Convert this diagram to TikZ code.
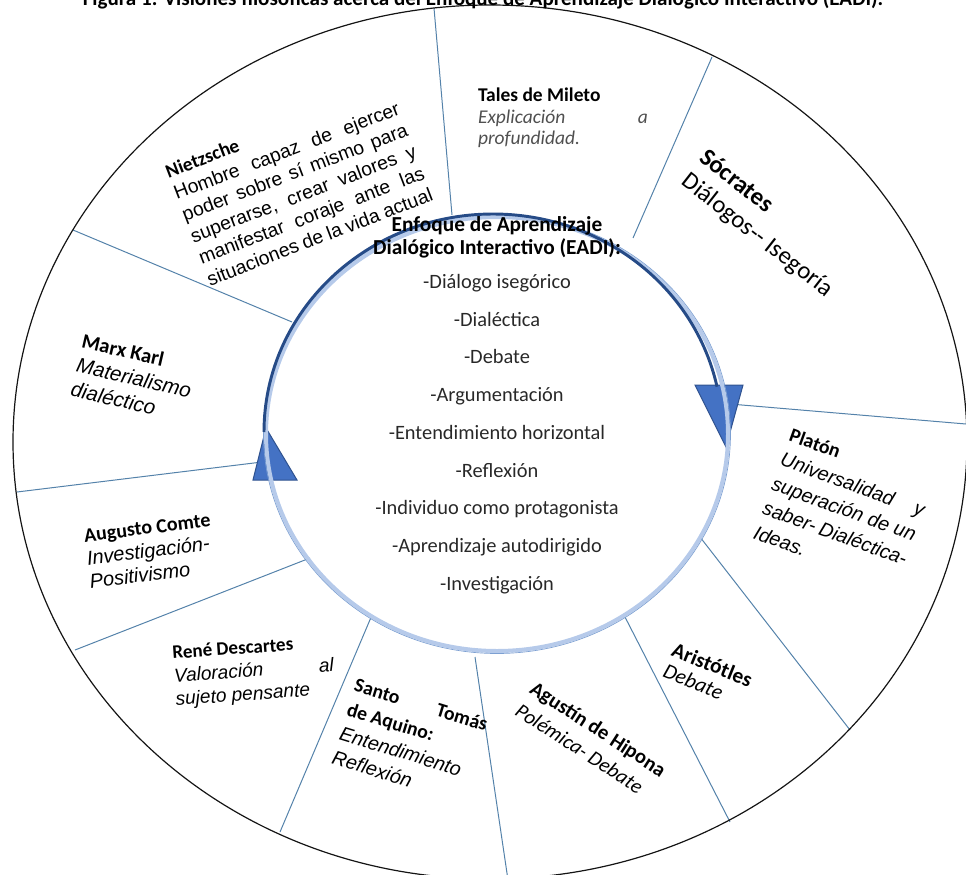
\documentclass[tikz,border=0pt]{standalone}
\usepackage{fontspec}
\setmainfont{Carlito}
\newfontfamily\arialf{Liberation Sans}
\newcommand{\fillline}[1]{\makebox[\hsize][s]{\spaceskip=0pt\xspaceskip=0pt #1}}
\newcommand{\hdr}[1]{{\rmfamily\upshape\bfseries #1}}

\tikzset{every picture/.style={line width=0.75pt}}

\begin{document}
\begin{tikzpicture}[x=0.75pt,y=0.75pt,yscale=-1,xscale=1]
\useasboundingbox (0,0) rectangle (966,874);

%Straight Lines [dividers]
\draw [color={rgb, 255:red, 84; green, 130; blue, 170 }  ,draw opacity=1 ]   (452,215) -- (434,8) ;
\draw [color={rgb, 255:red, 84; green, 130; blue, 170 }  ,draw opacity=1 ]   (633,238) -- (712,57) ;
\draw [color={rgb, 255:red, 84; green, 130; blue, 170 }  ,draw opacity=1 ]   (730,404) -- (966,424) ;
\draw [color={rgb, 255:red, 84; green, 130; blue, 170 }  ,draw opacity=1 ]   (700,537) -- (850,730) ;
\draw [color={rgb, 255:red, 84; green, 130; blue, 170 }  ,draw opacity=1 ]   (625,617) -- (730,822) ;
\draw [color={rgb, 255:red, 84; green, 130; blue, 170 }  ,draw opacity=1 ]   (475,657) -- (508,880) ;
\draw [color={rgb, 255:red, 84; green, 130; blue, 170 }  ,draw opacity=1 ]   (372,615) -- (280,832) ;
\draw [color={rgb, 255:red, 84; green, 130; blue, 170 }  ,draw opacity=1 ]   (310,558) -- (75,650) ;
\draw [color={rgb, 255:red, 84; green, 130; blue, 170 }  ,draw opacity=1 ]   (262,462) -- (17,492) ;
\draw [color={rgb, 255:red, 84; green, 130; blue, 170 }  ,draw opacity=1 ]   (292,322) -- (73,230) ;

%Shape: Ellipse [outer]
\draw  [color={rgb, 255:red, 20; green, 20; blue, 20 }  ,draw opacity=1 ][line width=0.9]  (490,442) ellipse [x radius=477, y radius=437] ;

%Shape: Triangle [right]
\draw  [color={rgb, 255:red, 47; green, 82; blue, 143 }  ,draw opacity=1 ][fill={rgb, 255:red, 68; green, 114; blue, 196 }  ,fill opacity=1 ] (695,385) -- (743,385) -- (726,447) -- cycle ;
%Shape: Triangle [left]
\draw  [color={rgb, 255:red, 47; green, 82; blue, 143 }  ,draw opacity=1 ][fill={rgb, 255:red, 68; green, 114; blue, 196 }  ,fill opacity=1 ] (266,428) -- (297,480) -- (253,480) -- cycle ;

%Shape: Ellipse [ring]
\draw  [color={rgb, 255:red, 182; green, 202; blue, 234 }  ,draw opacity=1 ][line width=3]  (497,434) ellipse [x radius=231, y radius=217] ;
\draw  [color={rgb, 255:red, 125; green, 160; blue, 210 }  ,draw opacity=1 ][line width=0.5]  (497,434) ellipse [x radius=233.5, y radius=219.5] ;
%Shape: Arc [dark]
\draw  [color={rgb, 255:red, 38; green, 75; blue, 135 }  ,draw opacity=1 ][line width=2.2]  (264,432) arc [start angle=180, end angle=348, x radius=229, y radius=218] ;

% Text Node
\draw (483,6) node [anchor=base][inner sep=0pt]  [font=\bfseries\fontsize{15.8}{17}\selectfont]  (titulo) {Figura 1. Visiones filosóficas acerca del Enfoque de Aprendizaje Dialógico Interactivo (EADI).};
% Text Node
\draw (497,237) node [inner sep=0pt][align=center]  [font=\bfseries\fontsize{16}{17.25}\selectfont]  (eadi) {Enfoque de Aprendizaje\\ Dialógico Interactivo (EADI):};
% Text Node
\draw (497,434) node [inner sep=0pt][align=center]  [font=\fontsize{15.3}{28.3}\selectfont ,color={rgb, 255:red, 40; green, 40; blue, 40 }]  (rasgos) {-Diálogo isegórico\\ -Dialéctica\\ -Debate\\ -Argumentación\\ -Entendimiento horizontal\\ -Reflexión\\ -Individuo como protagonista\\ -Aprendizaje autodirigido\\ -Investigación};
% Text Node
\draw (563,118) node [inner sep=0pt][text width=127.5pt ,align=justify]  [font=\fontsize{14.6}{16.1}\selectfont]  (tales) {\textbf{Tales de Mileto}\\ {\color[RGB]{80,80,80}\itshape\fillline{Explicación a}\\ profundidad.}};
% Text Node
\draw (299,183) node [rotate=21][inner sep=0pt][text width=180pt ,align=justify]  [font=\arialf\fontsize{14.5}{17.3}\selectfont]  (nietzsche) {\hdr{Nietzsche}\\ \fillline{Hombre capaz de ejercer}\\ \fillline{poder sobre sí mismo para}\\ \fillline{superarse, crear valores y}\\ \fillline{manifestar coraje ante las}\\ \fillline{situaciones de la vida actual}};
% Text Node
\draw (766,224) node [rotate=-38][inner sep=0pt][align=left]  [font=\fontsize{18.5}{22}\selectfont]  (socrates) {\textbf{Sócrates}\\ Diálogos-{}- Isegoría};
% Text Node
\draw (844,509) node [rotate=-20][inner sep=0pt][text width=114pt ,align=justify]  [font=\arialf\itshape\fontsize{14.8}{19.5}\selectfont]  (platon) {\hdr{Platón}\\ \fillline{Universalidad y}\\ \fillline{superación de un}\\ \fillline{saber- Dialéctica-}\\ Ideas.};
% Text Node
\draw (708,675) node [rotate=-22][inner sep=0pt][align=left]  [font=\fontsize{16}{17}\selectfont]  (aristoteles) {\textbf{Aristótles}\\ \textit{Debate}};
% Text Node
\draw (591,740) node [rotate=-33][inner sep=0pt][align=left]  [font=\fontsize{15.5}{20}\selectfont]  (agustin) {\textbf{Agustín de Hipona}\\ \textit{Polémica- Debate}};
% Text Node
\draw (410,741) node [rotate=-17][inner sep=0pt][text width=103.5pt ,align=justify]  [font=\arialf\itshape\fontsize{14.8}{19}\selectfont]  (tomas) {\hdr{\fillline{Santo Tomás}\\ de Aquino:}\\ Entendimiento\\ Reflexión};
% Text Node
\draw (254,672) node [rotate=4][inner sep=0pt][text width=120pt ,align=justify]  [font=\arialf\itshape\fontsize{14.3}{17.5}\selectfont]  (descartes) {\hdr{René Descartes}\\ \fillline{Valoración al}\\ sujeto pensante};
% Text Node
\draw (150,551) node [rotate=7][inner sep=0pt][align=left]  [font=\arialf\itshape\fontsize{15}{17.5}\selectfont]  (comte) {\hdr{Augusto Comte}\\ Investigación-\\ Positivismo};
% Text Node
\draw (134,378) node [rotate=-13][inner sep=0pt][align=left]  [font=\arialf\itshape\fontsize{15.5}{18.5}\selectfont]  (marx) {\hdr{Marx Karl}\\ Materialismo\\ dialéctico};

\end{tikzpicture}
\end{document}
